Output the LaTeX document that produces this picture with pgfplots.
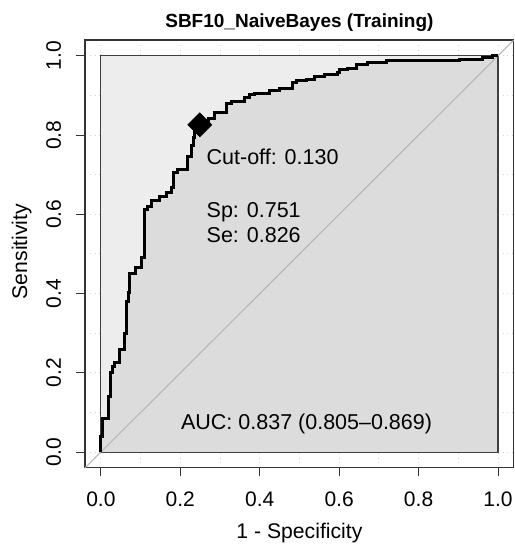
\documentclass[border=0pt]{standalone}
\usepackage{pgfplots}
\pgfplotsset{compat=1.18}
\usepackage{fontspec}
\setmainfont{Liberation Sans}
\definecolor{maxpoly}{HTML}{EDEDED}
\definecolor{aucpoly}{HTML}{DCDCDC}
\definecolor{idline}{HTML}{B4B4B4}
\definecolor{gridc}{HTML}{D2D2D2}
\begin{document}
\begin{tikzpicture}
\begin{axis}[
  scale only axis,
  width=214.5pt, height=214pt,
  xmin=-0.04, xmax=1.04, ymin=-0.04, ymax=1.04,
  clip=false,
  axis line style={black!80, line width=0.55pt},
  xtick={0,0.2,0.4,0.6,0.8,1.0},
  ytick={0,0.2,0.4,0.6,0.8,1.0},
  minor xtick={0.1,0.3,0.5,0.7,0.9},
  minor ytick={0.1,0.3,0.5,0.7,0.9},
  grid=both,
  major grid style={gridc, dotted, line width=0.5pt},
  minor grid style={gridc, dotted, line width=0.5pt},
  minor tick length=0pt,
  major tick length=4.25pt,
  tick align=outside,
  xtick pos=bottom, ytick pos=left,
  tick style={black!80, line width=0.5pt},
  xticklabel style={font=\fontsize{10.5}{12}\selectfont, anchor=base, inner sep=0pt, yshift=-15.25pt},
  yticklabel style={font=\fontsize{10.5}{12}\selectfont, rotate=90, anchor=base, inner sep=0pt, yshift=7.75pt},
  xticklabel={\pgfmathprintnumber[fixed,fixed zerofill,precision=1,assume math mode=true]{\tick}},
  yticklabel={\pgfmathprintnumber[fixed,fixed zerofill,precision=1,assume math mode=true]{\tick}},
]
% max AUC polygon (square)
\addplot[fill=maxpoly, draw=none] coordinates {(0,0) (1,0) (1,1) (0,1)} --cycle;
% AUC polygon
\addplot[const plot, fill=aucpoly, draw=none] coordinates {
(0,0) (0,0.04) (0.004,0.086) (0.018,0.14) (0.023,0.20) (0.029,0.215) (0.035,0.227)
(0.048,0.26) (0.059,0.30) (0.065,0.38) (0.069,0.404) (0.073,0.45) (0.086,0.467)
(0.102,0.49) (0.111,0.611) (0.118,0.62) (0.127,0.636) (0.148,0.644) (0.165,0.654)
(0.178,0.667) (0.184,0.705) (0.194,0.712) (0.219,0.745) (0.228,0.775) (0.232,0.793)
(0.236,0.806) (0.249,0.826) (0.27,0.843) (0.287,0.856) (0.316,0.881) (0.329,0.885)
(0.362,0.895) (0.375,0.902) (0.387,0.906) (0.425,0.912) (0.45,0.918) (0.483,0.932)
(0.492,0.937) (0.517,0.941) (0.538,0.947) (0.563,0.953) (0.597,0.957) (0.601,0.965)
(0.622,0.969) (0.643,0.977) (0.672,0.982) (0.693,0.984) (0.719,0.988) (0.903,0.992)
(0.961,0.996) (0.986,1.0) (1,1) (1,0)
} --cycle;
% square border
\addplot[draw=black!75, line width=0.55pt, fill=none] coordinates {(0,0) (1,0) (1,1) (0,1)} --cycle;
% identity line
\addplot[idline, line width=0.5pt] coordinates {(-0.04,-0.04) (1.04,1.04)};
% ROC curve
\addplot[const plot, black, line width=1.5pt, line join=miter] coordinates {
(0,0) (0,0.04) (0.004,0.086) (0.018,0.14) (0.023,0.20) (0.029,0.215) (0.035,0.227)
(0.048,0.26) (0.059,0.30) (0.065,0.38) (0.069,0.404) (0.073,0.45) (0.086,0.467)
(0.102,0.49) (0.111,0.611) (0.118,0.62) (0.127,0.636) (0.148,0.644) (0.165,0.654)
(0.178,0.667) (0.184,0.705) (0.194,0.712) (0.219,0.745) (0.228,0.775) (0.232,0.793)
(0.236,0.806) (0.249,0.826) (0.27,0.843) (0.287,0.856) (0.316,0.881) (0.329,0.885)
(0.362,0.895) (0.375,0.902) (0.387,0.906) (0.425,0.912) (0.45,0.918) (0.483,0.932)
(0.492,0.937) (0.517,0.941) (0.538,0.947) (0.563,0.953) (0.597,0.957) (0.601,0.965)
(0.622,0.969) (0.643,0.977) (0.672,0.982) (0.693,0.984) (0.719,0.988) (0.903,0.992)
(0.961,0.996) (0.986,1.0) (1,1)
};
% threshold marker
\addplot[only marks, mark=square*, mark size=4.2pt, mark options={rotate=45, fill=black, draw=black}] coordinates {(0.249,0.826)};
% annotations
\node[anchor=base west, inner sep=0pt, font=\fontsize{10.75}{12}\selectfont] at (axis cs:0.2654,0.7247) {Cut-off: 0.130};
\node[anchor=base west, inner sep=0pt, font=\fontsize{10.75}{12}\selectfont] at (axis cs:0.2654,0.5909) {Sp: 0.751};
\node[anchor=base west, inner sep=0pt, font=\fontsize{10.75}{12}\selectfont] at (axis cs:0.2654,0.5278) {Se: 0.826};
\node[anchor=base, inner sep=0pt, font=\fontsize{10.75}{12}\selectfont] at (axis cs:0.518,0.058) {AUC: 0.837 (0.805--0.869)};
% title and axis labels
\node[anchor=base, inner sep=0pt, font=\fontsize{9.5}{11}\selectfont\bfseries] at (axis cs:0.5,1.0707) {SBF10\_NaiveBayes (Training)};
\node[anchor=base, inner sep=0pt, font=\fontsize{10.6}{12}\selectfont] at (axis cs:0.5,-0.217) {1 - Specificity};
\node[anchor=base, inner sep=0pt, rotate=90, font=\fontsize{10.6}{12}\selectfont] at (axis cs:-0.186,0.506) {Sensitivity};
% bounding box
\path (axis cs:-0.254,-0.232) rectangle (axis cs:1.0415,1.141);
\end{axis}
\end{tikzpicture}
\end{document}
